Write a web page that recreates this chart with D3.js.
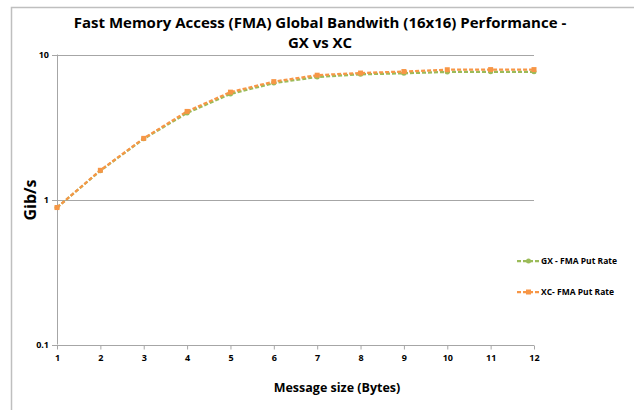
<!DOCTYPE html>
<html>
<head>
<meta charset="utf-8">
<script src="https://cdn.jsdelivr.net/npm/d3@7"></script>
<style>
  body { margin: 0; background: #fff; }
  text { font-family: "Open Sans", "Liberation Sans", sans-serif; font-weight: bold; fill: #000; }
</style>
</head>
<body>
<div id="chart"></div>
<script>
var sizes = [1, 2, 3, 4, 5, 6, 7, 8, 9, 10, 11, 12];
var gxRate = [0.88, 1.58, 2.62, 3.95, 5.35, 6.35, 7.0, 7.3, 7.42, 7.58, 7.6, 7.6];
var xcRate = [0.88, 1.59, 2.64, 4.05, 5.5, 6.5, 7.2, 7.45, 7.63, 7.85, 7.87, 7.87];
var yTicks = [0.1, 1, 10];
var seriesNames = ["GX - FMA Put Rate", "XC- FMA Put Rate"];
var seriesColors = ["#9bbb59", "#f79646"];

var width = 634, height = 410;

var svg = d3.select("#chart").append("svg")
  .attr("width", width)
  .attr("height", height);

// chart border (runs off the bottom/right of the picture)
svg.append("rect")
  .attr("x", 11.5)
  .attr("y", 7.5)
  .attr("width", 700)
  .attr("height", 500)
  .attr("fill", "none")
  .attr("stroke", "#bfbfbf")
  .attr("stroke-width", 1.5);

var x = d3.scaleLinear().domain([1, 12]).range([57, 534]);
var y = d3.scaleLog().domain([0.1, 10]).range([344.5, 54.5]);

// horizontal gridlines
svg.selectAll("line.grid")
  .data(yTicks)
  .enter().append("line")
    .attr("class", "grid")
    .attr("x1", x(1) - 5)
    .attr("x2", x(12))
    .attr("y1", function(d) { return Math.round(y(d)) + 0.5; })
    .attr("y2", function(d) { return Math.round(y(d)) + 0.5; })
    .attr("stroke", "#a6a6a6")
    .attr("stroke-width", 1);

// vertical axis line
svg.append("line")
  .attr("x1", x(1) + 0.5)
  .attr("x2", x(1) + 0.5)
  .attr("y1", y(10))
  .attr("y2", y(0.1))
  .attr("stroke", "#a6a6a6");

// y tick labels
svg.selectAll("text.ylab")
  .data(yTicks)
  .enter().append("text")
    .attr("class", "ylab")
    .attr("x", 49)
    .attr("y", function(d) { return y(d) + 3; })
    .attr("text-anchor", "end")
    .attr("font-size", 9)
    .text(function(d) { return d; });

// x axis ticks and labels
var xAxis = d3.axisBottom(x)
  .tickValues(sizes)
  .tickSize(4)
  .tickFormat(d3.format("d"));

var gx = svg.append("g")
  .attr("transform", "translate(0," + (Math.round(y(0.1)) + 0.5) + ")")
  .call(xAxis);
gx.select(".domain").remove();
gx.selectAll(".tick line").attr("stroke", "#a6a6a6");
gx.selectAll(".tick text")
  .attr("y", 9)
  .attr("font-size", 9)
  .attr("font-family", null)
  .attr("fill", "#000");

// series
var seriesData = [gxRate, xcRate];
var line = d3.line()
  .x(function(d, i) { return x(sizes[i]); })
  .y(function(d) { return y(d); });

seriesData.forEach(function(vals, s) {
  svg.append("path")
    .datum(vals)
    .attr("d", line)
    .attr("fill", "none")
    .attr("stroke", seriesColors[s])
    .attr("stroke-width", 2.25)
    .attr("stroke-dasharray", "4,2");
});

// markers
svg.selectAll("circle.gx")
  .data(gxRate)
  .enter().append("circle")
    .attr("class", "gx")
    .attr("cx", function(d, i) { return x(sizes[i]); })
    .attr("cy", function(d) { return y(d); })
    .attr("r", 2.5)
    .attr("fill", seriesColors[0]);

svg.selectAll("rect.xc")
  .data(xcRate)
  .enter().append("rect")
    .attr("class", "xc")
    .attr("x", function(d, i) { return x(sizes[i]) - 2.5; })
    .attr("y", function(d) { return y(d) - 2.5; })
    .attr("width", 5)
    .attr("height", 5)
    .attr("fill", seriesColors[1]);

// legend
var legend = svg.selectAll("g.legend")
  .data(seriesNames)
  .enter().append("g")
    .attr("class", "legend")
    .attr("transform", function(d, i) { return "translate(517," + (261 + i * 31) + ")"; });

legend.append("line")
  .attr("x1", 0)
  .attr("x2", 23)
  .attr("stroke", function(d, i) { return seriesColors[i]; })
  .attr("stroke-width", 2.25)
  .attr("stroke-dasharray", "4,2");

legend.each(function(d, i) {
  var g = d3.select(this);
  if (i === 0) {
    g.append("circle").attr("cx", 11.5).attr("r", 2.5).attr("fill", seriesColors[0]);
  } else {
    g.append("rect").attr("x", 9).attr("y", -2.5).attr("width", 5).attr("height", 5).attr("fill", seriesColors[1]);
  }
});

legend.append("text")
  .attr("x", 24)
  .attr("y", 3)
  .attr("font-size", 8.5)
  .text(function(d) { return d; });

// titles
svg.append("text")
  .attr("x", 320)
  .attr("y", 28)
  .attr("text-anchor", "middle")
  .attr("font-size", 15)
  .text("Fast Memory Access (FMA) Global Bandwith (16x16) Performance -");

svg.append("text")
  .attr("x", 320)
  .attr("y", 48)
  .attr("text-anchor", "middle")
  .attr("font-size", 15)
  .text("GX vs XC");

svg.append("text")
  .attr("transform", "translate(36,200) rotate(-90)")
  .attr("text-anchor", "middle")
  .attr("font-size", 16)
  .text("Gib/s");

svg.append("text")
  .attr("x", 337)
  .attr("y", 392)
  .attr("text-anchor", "middle")
  .attr("font-size", 12.5)
  .text("Message size (Bytes)");
</script>
</body>
</html>
